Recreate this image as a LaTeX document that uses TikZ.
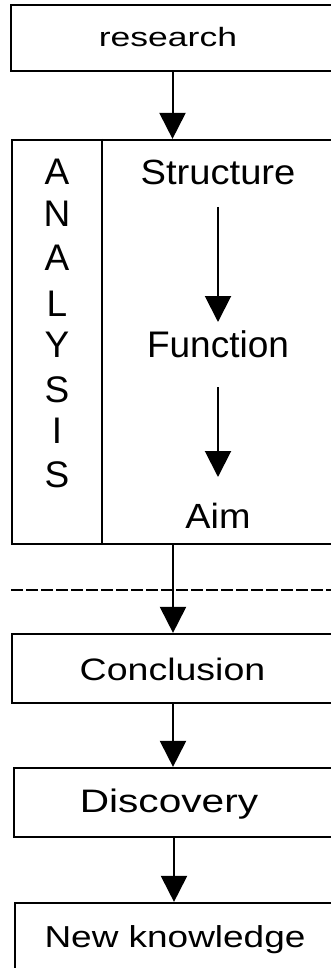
\documentclass[tikz,border=0pt]{standalone}
\usepackage{fontspec}
\setmainfont{Liberation Sans}
\usetikzlibrary{arrows.meta,calc}
\newcommand\sztext[3]{\scalebox{#2}[1]{\fontsize{#1pt}{#1pt}\selectfont #3}}
\tikzset{
  box/.style={draw, line width=2.2pt, inner sep=0pt},
  lbl/.style={inner sep=0pt, anchor=base},
  arr/.style={line width=2pt, -{Triangle[width=26pt,length=26pt]}},
  dashline/.style={line width=2pt, dash pattern=on 12pt off 3pt},
}
\begin{document}
\begin{tikzpicture}[x=1pt,y=-1pt]
\useasboundingbox (0,0) rectangle (331,968);
\clip (0,0) rectangle (331,968);
\fill[white] (0,0) rectangle (331,968);
% boxes
\node[box, minimum width=323pt, minimum height=66pt] (research) at (172.5,38) {};
\node[box, minimum width=322pt, minimum height=404pt] (analysis) at (173,342) {};
\node[box, minimum width=322pt, minimum height=69pt] (conclusion) at (173,668.5) {};
\node[box, minimum width=320pt, minimum height=69pt] (discovery) at (174,802.5) {};
\node[box, minimum width=319pt, minimum height=72pt] (newk) at (174.5,939) {};
\draw[line width=2.2pt] ([xshift=91pt]analysis.north west) -- ([xshift=91pt]analysis.south west);
% texts
\node[lbl] (tresearch) at (168,47) {\sztext{26.5}{1.34}{research}};
\node[lbl] (structure) at (218,185) {\sztext{35}{1.09}{Structure}};
\node[lbl] (function) at (218,357) {\sztext{37}{1.0}{Function}};
\node[lbl] (aim) at (218,528) {\sztext{35}{1.08}{Aim}};
\node[lbl] (tconclusion) at (172.5,680) {\sztext{31}{1.21}{Conclusion}};
\node[lbl] (tdiscovery) at (169,812) {\sztext{32.5}{1.25}{Discovery}};
\node[lbl] (tnewk) at (175,947) {\sztext{30.3}{1.22}{New knowledge}};
% ANALYSIS letters
\foreach \ch/\yy [count=\i] in {A/185,N/227,A/270,L/316,Y/357,S/402,I/443,S/487}
  \node[lbl] (let\i) at (57,\yy) {\sztext{37}{1.0}{\ch}};
% dashed line
\coordinate (dl) at (11,590);
\coordinate (dr) at (331,590);
\draw[dashline] (dl) -- (dr);
% arrows
\draw[arr] (research.south) -- (research.south |- analysis.north);
\draw[arr] ($(structure.base)+(0,22)$) -- ($(function.base)+(0,-35)$);
\draw[arr] ($(function.base)+(0,30)$) -- ($(aim.base)+(0,-51)$);
\draw[arr] (analysis.south) -- (analysis.south |- conclusion.north);
\draw[arr] (conclusion.south) -- (conclusion.south |- discovery.north);
\draw[arr] (discovery.south) -- (discovery.south |- newk.north);
\end{tikzpicture}
\end{document}
